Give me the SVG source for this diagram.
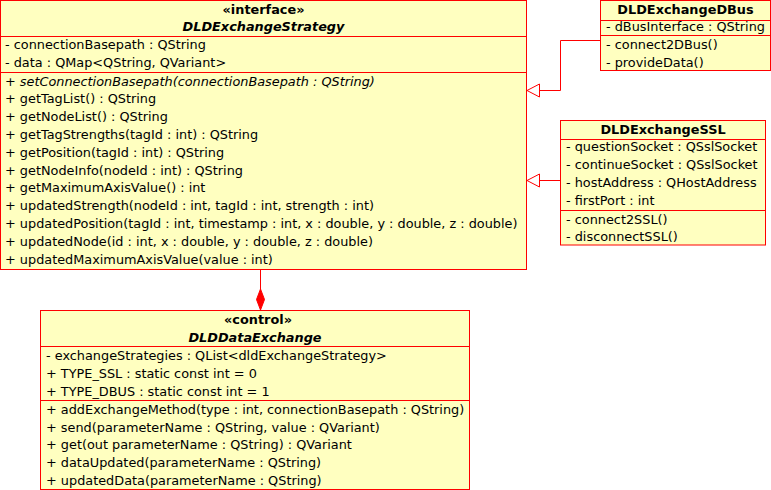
<svg xmlns="http://www.w3.org/2000/svg" width="771" height="490" viewBox="0 0 771 490">
<style>
.box{fill:#ffffc0;stroke:#ff0000;stroke-width:1}
.sep{stroke:#ff0000;stroke-width:1}
text{font-family:"DejaVu Sans",sans-serif;font-size:12.85px;fill:#000}
.h{font-weight:bold;text-anchor:middle}
.hi{font-weight:bold;font-style:italic;text-anchor:middle}
.i{font-style:italic}
.con{fill:none;stroke:#ff0000;stroke-width:1}
</style>
<rect width="771" height="490" fill="#ffffff"/>
<g id="DLDExchangeStrategy">
<rect class="box" x="0.5" y="0.5" width="526" height="269"/>
<line class="sep" x1="0.5" y1="36.5" x2="526.5" y2="36.5"/>
<line class="sep" x1="0.5" y1="72.5" x2="526.5" y2="72.5"/>
<text class="h" x="263.5" y="14">«interface»</text>
<text class="hi" x="263.5" y="31">DLDExchangeStrategy</text>
<text x="5" y="49">- connectionBasepath : QString</text>
<text x="5" y="67">- data : QMap&lt;QString, QVariant&gt;</text>
<text x="5" y="85.5">+ <tspan class="i">setConnectionBasepath(connectionBasepath : QString)</tspan></text>
<text x="5" y="103.3">+ getTagList() : QString</text>
<text x="5" y="121.1">+ getNodeList() : QString</text>
<text x="5" y="138.9">+ getTagStrengths(tagId : int) : QString</text>
<text x="5" y="156.7">+ getPosition(tagId : int) : QString</text>
<text x="5" y="174.5">+ getNodeInfo(nodeId : int) : QString</text>
<text x="5" y="192.3">+ getMaximumAxisValue() : int</text>
<text x="5" y="210.1">+ updatedStrength(nodeId : int, tagId : int, strength : int)</text>
<text x="5" y="227.9">+ updatedPosition(tagId : int, timestamp : int, x : double, y : double, z : double)</text>
<text x="5" y="245.7">+ updatedNode(id : int, x : double, y : double, z : double)</text>
<text x="5" y="263.5">+ updatedMaximumAxisValue(value : int)</text>
</g>
<g id="DLDExchangeDBus">
<rect class="box" x="600.5" y="0.5" width="170" height="70"/>
<line class="sep" x1="600.5" y1="20.5" x2="770.5" y2="20.5"/>
<line class="sep" x1="600.5" y1="35.5" x2="770.5" y2="35.5"/>
<text class="h" x="685.5" y="14">DLDExchangeDBus</text>
<text x="606" y="30.5">- dBusInterface : QString</text>
<text x="606" y="49">- connect2DBus()</text>
<text x="606" y="67">- provideData()</text>
</g>
<g id="DLDExchangeSSL">
<rect class="box" x="560.5" y="120.5" width="205" height="124.5"/>
<line class="sep" x1="560.5" y1="139.5" x2="765.5" y2="139.5"/>
<line class="sep" x1="560.5" y1="210.5" x2="765.5" y2="210.5"/>
<text class="h" x="663" y="134">DLDExchangeSSL</text>
<text x="566" y="151">- questionSocket : QSslSocket</text>
<text x="566" y="169">- continueSocket : QSslSocket</text>
<text x="566" y="187">- hostAddress : QHostAddress</text>
<text x="566" y="204.5">- firstPort : int</text>
<text x="566" y="223.5">- connect2SSL()</text>
<text x="566" y="241">- disconnectSSL()</text>
</g>
<g id="DLDDataExchange">
<rect class="box" x="40.5" y="310.5" width="429" height="179"/>
<line class="sep" x1="40.5" y1="346.5" x2="469.5" y2="346.5"/>
<line class="sep" x1="40.5" y1="400.5" x2="469.5" y2="400.5"/>
<text class="h" x="258" y="324">«control»</text>
<text class="hi" x="255" y="342">DLDDataExchange</text>
<text x="46" y="359.5">- exchangeStrategies : QList&lt;dldExchangeStrategy&gt;</text>
<text x="46" y="377.5">+ TYPE_SSL : static const int = 0</text>
<text x="46" y="395.5">+ TYPE_DBUS : static const int = 1</text>
<text x="46" y="413.5">+ addExchangeMethod(type : int, connectionBasepath : QString)</text>
<text x="46" y="431.5">+ send(parameterName : QString, value : QVariant)</text>
<text x="46" y="449">+ get(out parameterName : QString) : QVariant</text>
<text x="46" y="467">+ dataUpdated(parameterName : QString)</text>
<text x="46" y="484.5">+ updatedData(parameterName : QString)</text>
</g>
<g id="connectors">
<polyline class="con" points="600.5,40.5 560.5,40.5 560.5,90.5 539.5,90.5"/>
<polygon points="527,90.5 539.5,84 539.5,97" fill="#ffffff" stroke="#ff0000"/>
<line class="con" x1="560.5" y1="180.5" x2="539.5" y2="180.5"/>
<polygon points="527,180.5 539.5,174 539.5,187" fill="#ffffff" stroke="#ff0000"/>
<line class="con" x1="260.5" y1="269.5" x2="260.5" y2="289"/>
<polygon points="260.5,289 264.5,299.5 260.5,310 256.5,299.5" fill="#ff0000" stroke="#ff0000"/>
</g>
</svg>
